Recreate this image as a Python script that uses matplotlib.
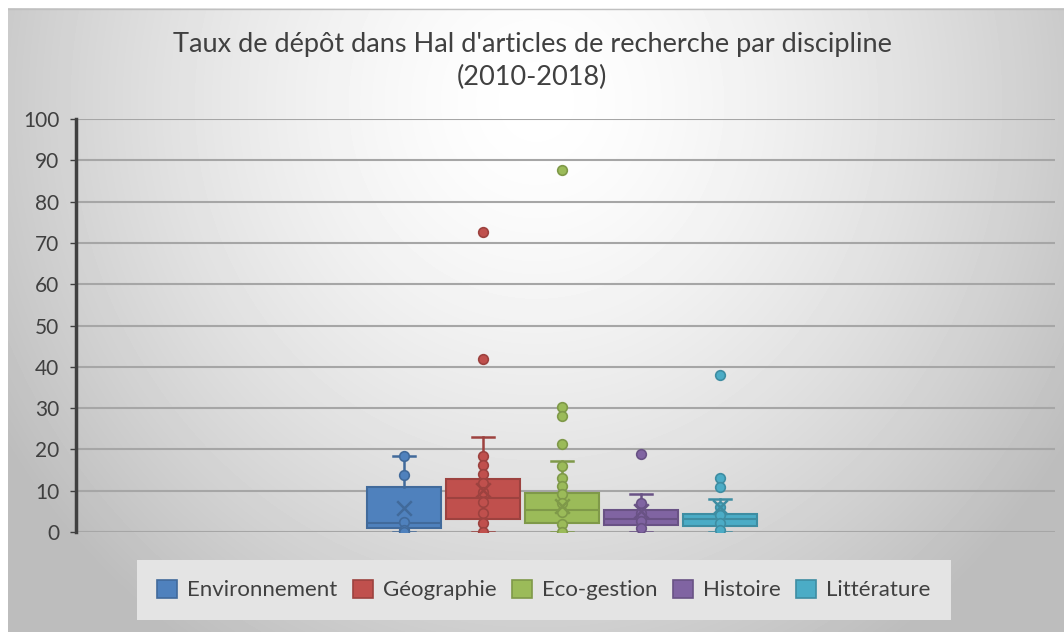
import numpy as np
import matplotlib
matplotlib.use("Agg")
import matplotlib.pyplot as plt
from matplotlib.patches import Patch
from matplotlib.colors import to_rgb

plt.rcParams['font.family'] = ['Lato', 'DejaVu Sans']

# ---- data ----
categories = ["Environnement", "Géographie", "Eco-gestion", "Histoire", "Littérature"]
colors = ["#4F81BD", "#C0504D", "#9BBB59", "#8064A2", "#4BACC6"]

q1 = [0.9, 3.1, 2.1, 1.7, 1.5]
median = [2.1, 8.2, 5.3, 3.1, 3.1]
q3 = [11.0, 12.8, 9.4, 5.3, 4.4]
whislo = [0.0, 0.0, 0.0, 0.0, 0.0]
whishi = [18.4, 23.1, 17.2, 9.1, 8.0]
means = [5.8, 10.2, 6.3, 5.0, 6.0]

points_env = [18.4, 13.8, 2.5, 0.5, 0.0]
points_geo = [72.6, 41.9, 18.4, 16.2, 14.0, 11.9, 9.8, 7.3, 4.5, 2.3, 0.0]
points_eco = [87.6, 30.2, 28.1, 21.2, 16.1, 13.0, 11.1, 9.1, 7.1, 4.9, 1.9, 0.0]
points_his = [18.9, 7.1, 4.5, 2.7, 0.9]
points_lit = [37.9, 13.0, 11.0, 6.1, 4.1, 2.3, 0.5]
points = [points_env, points_geo, points_eco, points_his, points_lit]

yticks = list(range(0, 101, 10))
title = "Taux de dépôt dans Hal d'articles de recherche par discipline\n(2010-2018)"

# ---- figure ----
W, H = 1064, 632
fig = plt.figure(figsize=(W / 100, H / 100), dpi=100)

# background radial gradient (chart area)
bg = fig.add_axes([8 / W, 0, (W - 8) / W, (H - 8) / H])
bg.set_axis_off()
h, w = H - 8, W - 8
yy, xx = np.mgrid[0:h, 0:w]
cx, cy = w * 0.5, h * 0.15
r = np.sqrt(((xx - cx) / (w * 0.62)) ** 2 + ((yy - cy) / (h * 1.1)) ** 2)
val = np.clip(1.0 - 0.28 * r ** 1.5, 0.74, 1.0)
bg.imshow(val, cmap="gray", vmin=0, vmax=1, aspect="auto", interpolation="bilinear",
          extent=(0, w, h, 0))
bg.plot([0, w], [0.5, 0.5], color="#c0c0c0", lw=1)
bg.set_xlim(0, w)
bg.set_ylim(h, 0)

ax = fig.add_axes([76 / W, (H - 532) / H, (1055 - 76) / W, (532 - 119) / H])
ax.patch.set_alpha(0)

def darker(c, f=0.82):
    r_, g_, b_ = to_rgb(c)
    return (r_ * f, g_ * f, b_ * f)

positions = np.arange(len(categories))
stats = []
for i in range(len(categories)):
    stats.append(dict(q1=q1[i], med=median[i], q3=q3[i], whislo=whislo[i],
                      whishi=whishi[i], mean=means[i], fliers=[]))

for i, c in enumerate(colors):
    dc = darker(c)
    ax.bxp([stats[i]], positions=[positions[i]], widths=0.93, patch_artist=True,
           showmeans=False, showfliers=False,
           boxprops=dict(facecolor=c, edgecolor=dc, linewidth=1.5),
           medianprops=dict(color=dc, linewidth=1.5),
           whiskerprops=dict(color=dc, linewidth=1.8),
           capprops=dict(color=dc, linewidth=1.8),
           capwidths=0.28, manage_ticks=False)
    ax.scatter(np.full(len(points[i]), positions[i]), points[i], s=48,
               facecolor=c, edgecolor=dc, linewidth=1.2, zorder=4)
    ax.scatter([positions[i]], [means[i]], marker="x", s=110, color=dc,
               linewidth=1.8, zorder=5)

ax.set_xlim(-4.15, 8.24)
ax.set_ylim(0, 100)
ax.set_yticks(yticks)
ax.set_xticks([])
ax.yaxis.grid(True, color="#a6a6a6", linewidth=1.5)
ax.set_axisbelow(True)
for s in ["top", "right", "bottom"]:
    ax.spines[s].set_visible(False)
ax.spines["left"].set_color("#404040")
ax.spines["left"].set_linewidth(2.5)
ax.tick_params(axis="y", labelsize=15, labelcolor="#404040", length=4,
               color="#404040", width=1, pad=8)

fig.text(0.5, (H - 61) / H, title, ha="center", va="center", fontsize=19.5,
         color="#404040", linespacing=1.4)

handles = [Patch(facecolor=c, edgecolor=darker(c), linewidth=1.2, label=l)
           for c, l in zip(colors, categories)]
leg = fig.legend(handles=handles, loc="center", bbox_to_anchor=(544 / W, (H - 590) / H),
                 ncol=5, frameon=True, fontsize=16, handlelength=0.9, handleheight=0.9,
                 handletextpad=0.45, columnspacing=0.7, borderpad=0.9, fancybox=False)
leg.get_frame().set_facecolor("#e4e4e4")
leg.get_frame().set_edgecolor("none")
leg.get_frame().set_alpha(1)
for t in leg.get_texts():
    t.set_color("#404040")

fig.savefig("out.png", dpi=100)
